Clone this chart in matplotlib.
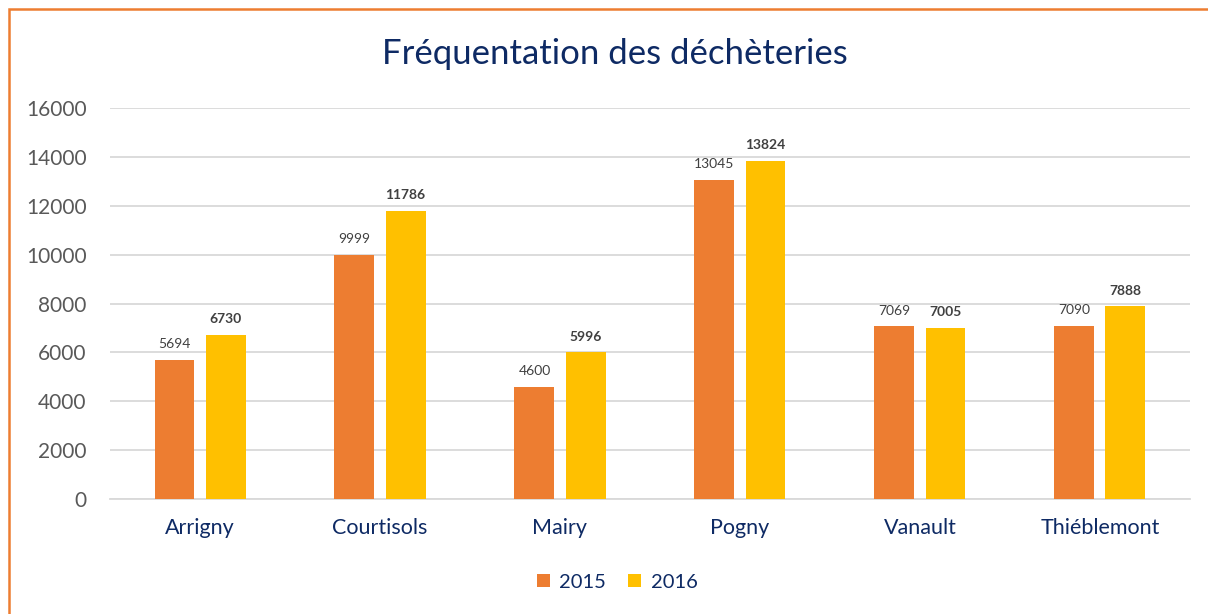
import matplotlib
matplotlib.use("Agg")
import matplotlib.pyplot as plt
import numpy as np
from matplotlib.patches import Rectangle

categories = ["Arrigny", "Courtisols", "Mairy", "Pogny", "Vanault", "Thiéblemont"]
values_2015 = [5694, 9999, 4600, 13045, 7069, 7090]
values_2016 = [6730, 11786, 5996, 13824, 7005, 7888]
series_names = ["2015", "2016"]
yticks = [0, 2000, 4000, 6000, 8000, 10000, 12000, 14000, 16000]

plt.rcParams['font.family'] = ['Lato', 'DejaVu Sans']

NAVY = "#0E2A64"

fig = plt.figure(figsize=(12.08, 6.14), dpi=100)
ax = fig.add_axes([0.0911, 0.1873, 0.8939, 0.6368])

x = np.arange(len(categories))
w = 0.222
off = 0.142
b1 = ax.bar(x - off, values_2015, w, color="#ED7D31", label=series_names[0], zorder=3)
b2 = ax.bar(x + off, values_2016, w, color="#FFC000", label=series_names[1], zorder=3)

for rect, v in zip(b1, values_2015):
    ax.annotate(f"{v}", (rect.get_x() + rect.get_width() / 2, v), xytext=(0, 7),
                textcoords="offset points", ha="center", va="bottom", fontsize=10, color="#404040")
for rect, v in zip(b2, values_2016):
    ax.annotate(f"{v}", (rect.get_x() + rect.get_width() / 2, v), xytext=(0, 7),
                textcoords="offset points", ha="center", va="bottom", fontsize=10,
                color="#404040", fontweight="bold")

ax.set_xlim(-0.5, len(categories) - 0.5)
ax.set_ylim(0, 16000)
ax.set_yticks(yticks)
ax.set_yticklabels([str(t) for t in yticks], fontsize=15, color="#595959")
ax.set_xticks(x)
ax.set_xticklabels(categories, fontsize=15.5, color=NAVY)
ax.tick_params(axis="both", length=0)
ax.tick_params(axis="y", pad=17)
ax.tick_params(axis="x", pad=14)
ax.grid(axis="y", color="#D9D9D9", linewidth=1.3, zorder=0)
for s in ["top", "right", "left"]:
    ax.spines[s].set_visible(False)
ax.spines["bottom"].set_color("#D9D9D9")
ax.spines["bottom"].set_linewidth(1.3)

fig.text(0.509, 0.912, "Fréquentation des déchèteries", ha="center", va="center",
         fontsize=25, color=NAVY)

leg = fig.legend(handles=[b1, b2], labels=series_names, loc="center", bbox_to_anchor=(0.511, 0.052),
                 ncol=2, frameon=False, fontsize=14.5, handlelength=0.65, handleheight=0.65,
                 columnspacing=1.1, handletextpad=0.45)
for t in leg.get_texts():
    t.set_color(NAVY)

fig.patches.append(Rectangle((9 / 1208, -0.5), 2.0, 0.5 + (1 - 9 / 614),
                             transform=fig.transFigure, fill=False,
                             edgecolor="#ED7D31", linewidth=1.8, zorder=10))

fig.savefig("out.png", dpi=100, facecolor="white")
